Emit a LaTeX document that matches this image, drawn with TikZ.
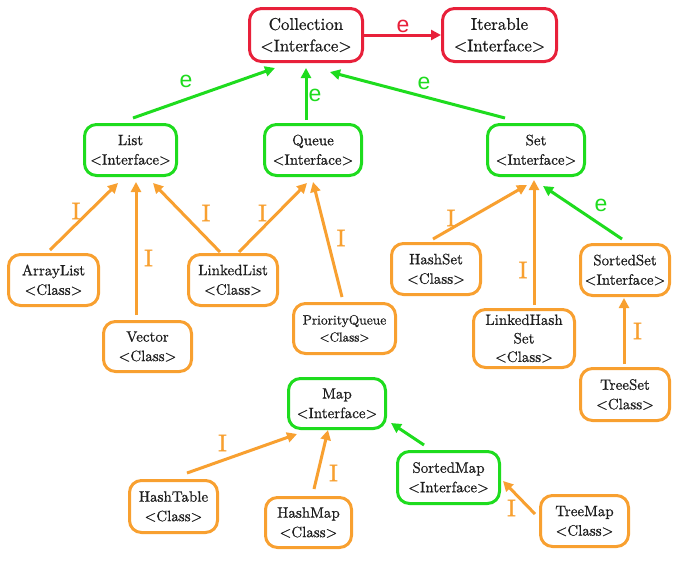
\documentclass[tikz,border=0pt]{standalone}
\usepackage{fontspec}
\newfontfamily\labsans{Liberation Sans}
\newfontfamily\boxfont{lmroman10-regular}[Extension=.otf, FakeBold=0.7]
\newfontfamily\ifont{lmroman10-regular}[Extension=.otf, FakeBold=1.2]
\usetikzlibrary{arrows.meta,calc}
\definecolor{cred}{HTML}{E8203A}
\definecolor{cgreen}{HTML}{1EDC1E}
\definecolor{corange}{HTML}{F8A030}
\definecolor{ctext}{HTML}{1E1E1E}
\begin{document}
\begin{tikzpicture}[x=1pt,y=-1pt,
  box/.style={draw, line width=3pt, rounded corners=12pt, align=center, text=ctext, inner sep=0pt, font=\boxfont\fontsize{15}{19.5}\selectfont},
  redbox/.style={box, draw=cred},
  greenbox/.style={box, draw=cgreen},
  orangebox/.style={box, draw=corange},
  conn/.style={line width=3pt, -{Triangle[length=10pt,width=10pt]}},
  redconn/.style={conn, draw=cred},
  greenconn/.style={conn, draw=cgreen},
  orangeconn/.style={conn, draw=corange},
  ilab/.style={text=corange, inner sep=0pt, font=\ifont\fontsize{24}{24}\selectfont},
  elab/.style={text=cgreen, inner sep=0pt, font=\labsans\fontsize{23}{23}\selectfont},
  relab/.style={elab, text=cred},
  sz/.style 2 args={minimum width=#1pt, minimum height=#2pt}
]
\useasboundingbox (0,0) rectangle (680,560);
\fill[white] (0,0) rectangle (680,560);

% nodes
\node[redbox, sz={113}{53}, font=\boxfont\fontsize{17}{21.5}\selectfont] (coll) at (306,35) {Collection\\<Interface>};
\node[redbox, sz={114}{53}, font=\boxfont\fontsize{17}{21.5}\selectfont] (iter) at (499.5,35) {Iterable\\<Interface>};
\node[greenbox, sz={92}{51}] (list) at (130.5,150) {List\\<Interface>};
\node[greenbox, sz={97}{51}] (queue) at (313,150) {Queue\\<Interface>};
\node[greenbox, sz={97}{51}] (set) at (536,150) {Set\\<Interface>};
\node[orangebox, sz={90}{51}] (arraylist) at (53.5,280) {ArrayList\\<Class>};
\node[orangebox, sz={89}{51}] (linkedlist) at (233,280) {LinkedList\\<Class>};
\node[orangebox, sz={88}{50}] (vector) at (147.5,346.5) {Vector\\<Class>};
\node[orangebox, sz={102}{50}, font=\boxfont\fontsize{13.5}{17}\selectfont] (pq) at (344.5,328.5) {PriorityQueue\\{\fontsize{13}{17}\selectfont<Class>}};
\node[orangebox, sz={89}{51}] (hashset) at (436,269) {HashSet\\<Class>};
\node[orangebox, sz={89}{51}] (sortedset) at (625,270) {SortedSet\\<Interface>};
\node[orangebox, sz={101}{58}, font=\boxfont\fontsize{15}{18.5}\selectfont] (lhs) at (524,338.5) {LinkedHash\\Set\\<Class>};
\node[orangebox, sz={89}{52}] (treeset) at (625,394.5) {TreeSet\\<Class>};
\node[greenbox, sz={97}{50}] (map) at (337,403.5) {Map\\<Interface>};
\node[orangebox, sz={88}{52}] (hashtable) at (173.5,506.5) {HashTable\\<Class>};
\node[orangebox, sz={86}{50}] (hashmap) at (308.5,522.5) {HashMap\\<Class>};
\node[greenbox, sz={102}{52}] (sortedmap) at (448.5,477.5) {SortedMap\\<Interface>};
\node[orangebox, sz={88}{51}] (treemap) at (584.5,521) {TreeMap\\<Class>};

% connectors
\draw[redconn] (coll.east) -- (iter.west);
\draw[greenconn] ($(list.center)+(2.5,-32)$) -- ($(coll.center)+(-31,33)$);
\draw[greenconn] ($(queue.center)+(-7,-30)$) -- ($(coll.center)+(0,33)$);
\draw[greenconn] ($(set.center)+(-31,-32)$) -- ($(coll.center)+(24,37)$);
\draw[orangeconn] ($(arraylist.center)+(-3.5,-30)$) -- ($(list.center)+(-12.5,33)$);
\draw[orangeconn] ($(vector.center)+(-11.5,-31.5)$) -- ($(list.center)+(5.5,32)$);
\draw[orangeconn] ($(linkedlist.center)+(-13,-28)$) -- ($(list.center)+(22.5,33)$);
\draw[orangeconn] ($(linkedlist.center)+(6,-28)$) -- ($(queue.center)+(-6,33)$);
\draw[orangeconn] ($(pq.center)+(-2.5,-31.5)$) -- ($(queue.center)+(0,32)$);
\draw[orangeconn] ($(hashset.center)+(-3,-30)$) -- ($(set.center)+(-9,35)$);
\draw[orangeconn] ($(lhs.center)+(10,-33.5)$) -- ($(set.center)+(-2,30)$);
\draw[greenconn] ($(sortedset.center)+(-3,-31)$) -- ($(set.center)+(7,36)$);
\draw[orangeconn] ($(treeset.center)+(-1,-30.5)$) -- ($(sortedset.center)+(-1,28)$);
\draw[orangeconn] ($(hashtable.center)+(13.5,-33.5)$) -- ($(map.center)+(-40,30.5)$);
\draw[orangeconn] ($(hashmap.center)+(5.5,-33.5)$) -- ($(map.center)+(-9,26.5)$);
\draw[greenconn] ($(sortedmap.center)+(-24.5,-32.5)$) -- ($(map.center)+(54,19.5)$);
\draw[orangeconn] ($(treemap.center)+(-49.5,-7)$) -- ($(sortedmap.center)+(54.5,3.5)$);

% labels
\node[relab] (lce) at (403,26) {e};
\node[elab] (lle) at (186,81) {e};
\node[elab] (lqe) at (315,95) {e};
\node[elab] (lse) at (424,83) {e};
\node[elab] (lsse) at (601,205) {e};
\node[ilab] (l1) at (76,211) {I};
\node[ilab] (l2) at (148.5,258) {I};
\node[ilab] (l3) at (206,213) {I};
\node[ilab] (l4) at (262.5,213) {I};
\node[ilab] (l5) at (341,238) {I};
\node[ilab] (l6) at (451,218) {I};
\node[ilab] (l7) at (523,270) {I};
\node[ilab] (l8) at (637.5,331) {I};
\node[ilab] (l9) at (222.5,443) {I};
\node[ilab] (l10) at (333.5,473) {I};
\node[ilab] (l11) at (511.5,508) {I};
\end{tikzpicture}
\end{document}
